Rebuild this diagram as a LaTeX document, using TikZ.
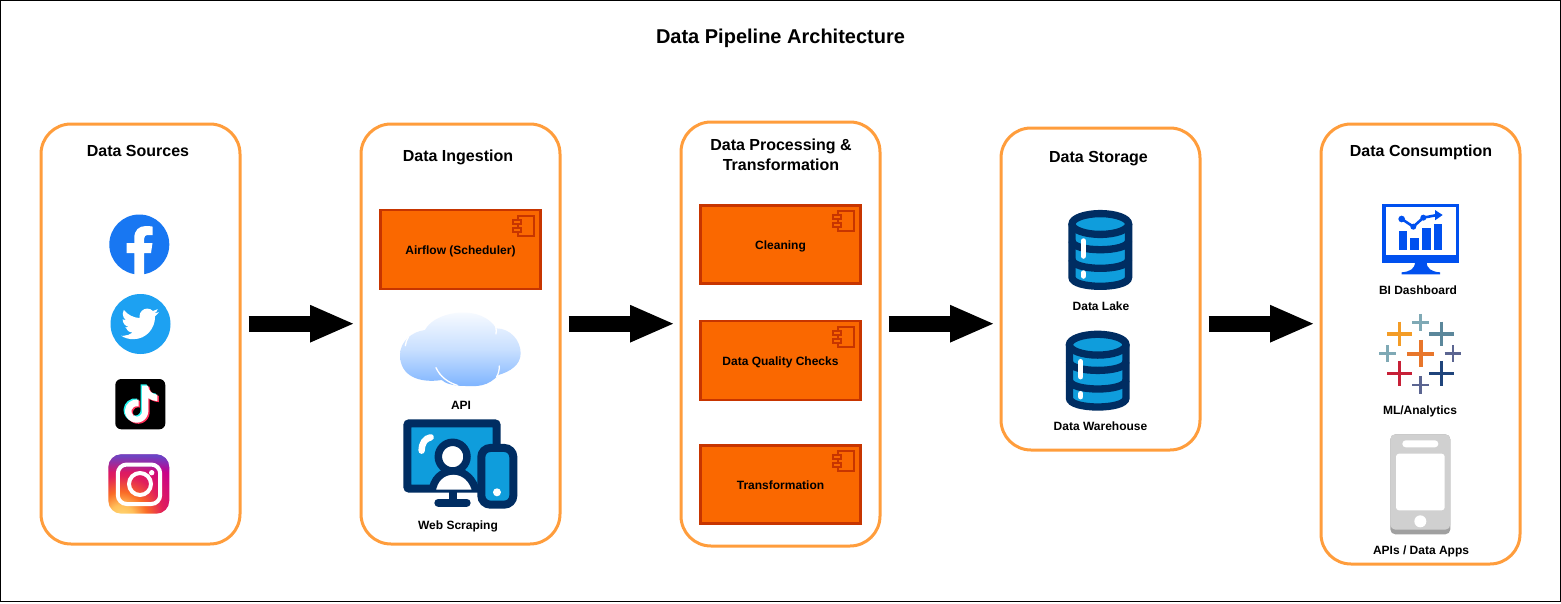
\documentclass[tikz,border=0pt]{standalone}
\usepackage{fontspec}
\setmainfont{Liberation Sans}
\usetikzlibrary{svg.path,arrows.meta,fadings,calc}
\definecolor{panelor}{HTML}{FF9D3C}
\definecolor{boxfill}{HTML}{FA6800}
\definecolor{boxline}{HTML}{C73500}
\definecolor{fbblue}{HTML}{1877F2}
\definecolor{twblue}{HTML}{1DA1F2}
\definecolor{navy}{HTML}{002D62}
\definecolor{skyb}{HTML}{0F9DDC}
\definecolor{biblue}{HTML}{0050EF}
\definecolor{phgray}{HTML}{D0D0D0}
\definecolor{phdark}{HTML}{A0A0A0}
\definecolor{tcyan}{HTML}{25F4EE}
\definecolor{tred}{HTML}{FE2C55}
\definecolor{tyel}{HTML}{F39C26}
\definecolor{tlteal}{HTML}{7FA9B5}
\definecolor{tteal}{HTML}{5B879B}
\definecolor{torange}{HTML}{E8762B}
\definecolor{tslate}{HTML}{5B6591}
\definecolor{tcrim}{HTML}{C72037}
\definecolor{tdblue}{HTML}{1F447B}
\definecolor{cloudb}{HTML}{7EB4FF}
\definecolor{igblue}{HTML}{4F5BD5}
\pgfdeclareradialshading{instag}{\pgfpoint{0bp}{0bp}}{%
  rgb(0bp)=(1,0.86,0.47);rgb(4bp)=(1,0.75,0.35);rgb(8bp)=(0.98,0.42,0.15);rgb(13bp)=(0.88,0.12,0.36);rgb(20bp)=(0.78,0.0,0.55);rgb(25bp)=(0.62,0.05,0.68);rgb(50bp)=(0.62,0.05,0.68)}
\tikzset{
  panel/.style={draw=panelor,line width=3pt,fill=white,rounded corners=30pt,minimum width=199pt},
  compbox/.style={draw=boxline,fill=boxfill,line width=2.5pt,minimum width=160pt,minimum height=79pt,font=\fontsize{12}{14}\bfseries,text=black,text height=9pt,text depth=0pt},
  heading/.style={font=\fontsize{16}{20}\bfseries,align=center,text=black,inner sep=0pt},
  caption/.style={font=\fontsize{12}{14}\bfseries,text=black,inner sep=0pt,text height=9pt,text depth=1.5pt},
  flowarrow/.style={line width=16pt,black,-{Triangle[length=45pt,width=34pt]},shorten <=7pt,shorten >=4.5pt},
  comp/.style={draw=boxline,line width=2pt,fill=none},
}
\newcommand{\compicon}[2]{%
 \begin{scope}[shift={(#1,#2)}]
  \draw[comp] (-17.5,-33.5) rectangle (-1.5,-13.5);
  \draw[comp,fill=boxfill] (-22.5,-30) rectangle (-14.5,-26);
  \draw[comp,fill=boxfill] (-22.5,-22) rectangle (-14.5,-18);
 \end{scope}}
\newcommand{\dbicon}[2]{%
 \begin{scope}[shift={(#1,#2)},line width=7.3pt,draw=navy]
  \path[fill=skyb] (-28.3,14) -- (-28.3,67.3) .. controls (-28.3,79.3) and (28.3,79.3) .. (28.3,67.3) -- (28.3,14) -- cycle;
  \draw[navy] (-28.3,30.7) .. controls (-28.3,42.7) and (28.3,42.7) .. (28.3,30.7);
  \draw[navy] (-28.3,49.3) .. controls (-28.3,61.3) and (28.3,61.3) .. (28.3,49.3);
  \draw[white,line width=5.5pt,line cap=round] (-17,31) -- (-17,46);
  \draw[white,line width=5.5pt,line cap=round] (-17,63) -- (-17,66);
  \draw[navy] (-28.3,14) -- (-28.3,67.3) .. controls (-28.3,79.3) and (28.3,79.3) .. (28.3,67.3) -- (28.3,14);
  \draw[navy,fill=skyb] (0,14) ellipse [x radius=28.3,y radius=10.4];
 \end{scope}}
\newcommand{\tplus}[5]{%
 \draw[#5,line width=#4pt] ({#1-#3},#2) -- ({#1+#3},#2) ({#1},{#2-#3}) -- ({#1},{#2+#3});}
\newcommand{\tiktokpath}[1]{\fill[#1] svg {M 12.525 0.02 c 1.31 -0.02 2.61 -0.01 3.91 -0.02 c 0.08 1.53 0.63 3.09 1.75 4.17 c 1.12 1.11 2.7 1.62 4.24 1.79 v 4.03 c -1.44 -0.05 -2.89 -0.35 -4.2 -0.97 c -0.57 -0.26 -1.1 -0.59 -1.62 -0.93 c -0.01 2.92 0.01 5.84 -0.02 8.75 c -0.08 1.4 -0.54 2.79 -1.35 3.94 c -1.31 1.92 -3.58 3.17 -5.91 3.21 c -1.43 0.08 -2.86 -0.31 -4.08 -1.03 c -2.02 -1.19 -3.44 -3.37 -3.65 -5.71 c -0.02 -0.5 -0.03 -1 -0.01 -1.49 c 0.18 -1.9 1.12 -3.72 2.58 -4.96 c 1.66 -1.44 3.98 -2.13 6.15 -1.72 c 0.02 1.48 -0.04 2.96 -0.04 4.44 c -0.99 -0.32 -2.15 -0.23 -3.02 0.37 c -0.63 0.41 -1.11 1.04 -1.36 1.75 c -0.21 0.51 -0.15 1.07 -0.14 1.61 c 0.24 1.64 1.82 3.02 3.5 2.87 c 1.12 -0.01 2.19 -0.66 2.77 -1.61 c 0.19 -0.33 0.4 -0.67 0.41 -1.06 c 0.1 -1.79 0.06 -3.57 0.07 -5.36 c 0.01 -4.03 -0.01 -8.05 0.02 -12.07 z};}
\begin{document}
\begin{tikzpicture}[x=1pt,y=-1pt]
\useasboundingbox (0,0) rectangle (1561,603);
\fill[white] (0,0) rectangle (1561,603);
\draw[black,line width=1pt] (0.5,0.5) rectangle (1560.5,601.5);
\node[font=\fontsize{20}{24}\bfseries,inner sep=0pt] (title) at (780.5,38.5) {Data Pipeline Architecture};

% panels
\node[panel,minimum height=420pt] (sources) at (140.5,334) {};
\node[panel,minimum height=420pt] (ingestion) at (460.5,334) {};
\node[panel,minimum height=424pt] (processing) at (780.5,334) {};
\node[panel,minimum height=322pt] (storage) at (1100.5,289) {};
\node[panel,minimum height=440pt] (consumption) at (1420.5,344) {};

\node[heading] (hsources) at (138,151) {Data Sources};
\node[heading] (hingest) at (458,157) {Data Ingestion};
\node[heading] (hproc) at (781,155) {Data Processing \&\\Transformation};
\node[heading] (hstore) at (1098.5,158.5) {Data Storage};
\node[heading] (hcons) at (1421,152) {Data Consumption};

% connectors
\coordinate (flow) at (0,323.7);
\draw[flowarrow] (sources.east |- flow) -- (ingestion.west |- flow);
\draw[flowarrow] (ingestion.east |- flow) -- (processing.west |- flow);
\draw[flowarrow] (processing.east |- flow) -- (storage.west |- flow);
\draw[flowarrow] (storage.east |- flow) -- (consumption.west |- flow);

% facebook
\fill[fbblue] (139.3,244.5) circle[radius=30];
\fill[white] (134.3,275) -- (134.3,253) -- (126.7,253) -- (126.7,243) -- (134.3,243) -- (134.3,238)
  .. controls (134.3,230) and (139,226) .. (146,226) .. controls (149,226) and (151,226.3) .. (152.7,226.6)
  -- (152.7,235) -- (148.5,235) .. controls (145.3,235) and (144,236.5) .. (144,239) -- (144,243)
  -- (152.5,243) -- (151,253) -- (144,253) -- (144,275) -- cycle;

% twitter
\fill[twblue] (140.5,324) circle[radius=30];
\begin{scope}[shift={(119.6,304)},scale=1.66,yscale=-1]
\fill[white] svg {M 23.643 4.937 c -0.835 0.37 -1.732 0.62 -2.675 0.733 c 0.962 -0.576 1.7 -1.49 2.048 -2.578 c -0.9 0.534 -1.897 0.922 -2.958 1.13 c -0.85 -0.904 -2.06 -1.47 -3.4 -1.47 c -2.572 0 -4.658 2.086 -4.658 4.66 c 0 0.364 0.042 0.718 0.12 1.06 c -3.873 -0.195 -7.304 -2.05 -9.602 -4.868 c -0.4 0.69 -0.63 1.49 -0.63 2.342 c 0 1.616 0.823 3.043 2.072 3.878 c -0.764 -0.025 -1.482 -0.234 -2.11 -0.583 v 0.06 c 0 2.257 1.605 4.14 3.737 4.568 c -0.392 0.106 -0.803 0.162 -1.227 0.162 c -0.3 0 -0.593 -0.028 -0.877 -0.082 c 0.593 1.85 2.313 3.198 4.352 3.234 c -1.595 1.25 -3.604 1.995 -5.786 1.995 c -0.376 0 -0.747 -0.022 -1.112 -0.065 c 2.062 1.323 4.51 2.093 7.14 2.093 c 8.57 0 13.255 -7.098 13.255 -13.254 c 0 -0.2 -0.005 -0.402 -0.014 -0.602 c 0.91 -0.658 1.7 -1.477 2.323 -2.41 z};
\end{scope}

% tiktok
\fill[black,rounded corners=6pt] (115.3,379) rectangle (165.3,429.3);
\begin{scope}[shift={(121.2,384.4)},scale=1.55,yscale=-1]\tiktokpath{tcyan}\end{scope}
\begin{scope}[shift={(124,386.6)},scale=1.55,yscale=-1]\tiktokpath{tred}\end{scope}
\begin{scope}[shift={(122.6,385.5)},scale=1.55,yscale=-1]\tiktokpath{white}\end{scope}

% instagram
\begin{scope}
 \clip[rounded corners=13pt] (108.3,454.3) rectangle (169.3,513.7);
 \shade[shading=instag] (121,518) circle[radius=82];
 \fill[igblue,path fading=south] (100,450) rectangle (170,472);
\end{scope}
\draw[white,line width=4pt,rounded corners=9pt] (117.8,464.5) rectangle (160.2,504);
\draw[white,line width=4pt] (140,484) circle[radius=11];
\fill[white] (151.7,472.7) circle[radius=2.7];

% boxes
\node[compbox] (airflow) at (460.5,249.5) {Airflow (Scheduler)};
\compicon{535.5}{249.5}
\node[compbox,minimum height=78pt] (cleaning) at (780.5,244.5) {Cleaning};
\node[compbox,minimum height=79pt] (quality) at (780.5,360.5) {Data Quality Checks};
\node[compbox,minimum height=78pt] (transform) at (780.5,484.5) {Transformation};

% cloud
\begin{scope}[shift={(370,200)},x=0.3333pt,y=-0.3333pt]
 \shade[top color=cloudb!6!white,bottom color=cloudb,middle color=cloudb!42!white]
   (215,540) .. controls (150,550) and (90,530) .. (90,465)
   .. controls (90,425) and (125,395) .. (165,390)
   .. controls (190,345) and (260,335) .. (290,338)
   .. controls (330,340) and (365,360) .. (378,385)
   .. controls (420,385) and (452,420) .. (452,460)
   .. controls (452,495) and (420,515) .. (385,525)
   .. controls (355,560) and (320,560) .. (285,558)
   .. controls (250,558) and (225,550) .. (215,540) -- cycle;
 \draw[white,line width=1.3pt,line cap=round] (198,503) .. controls (210,530) and (235,548) .. (262,556);
 \draw[white,line width=1.3pt,line cap=round] (388,498) .. controls (388,510) and (386,520) .. (380,530);
 \draw[white,line width=1.3pt,line cap=round] (372,365) .. controls (378,378) and (380,390) .. (378,402);
 \draw[white,line width=1.3pt,line cap=round] (115,412) .. controls (110,420) and (107,428) .. (106,437);
 % web scraping icon
 \draw[navy,line width=8pt,fill=skyb,rounded corners=2pt] (112,670) rectangle (380,866);
 \fill[navy] (237,870) rectangle (260,905);
 \draw[navy,line width=8pt,line cap=round] (205,908) -- (290,908);
 \draw[white,line width=6.5pt,line cap=round] (155,752) .. controls (155,730) and (165,715) .. (182,712);
 \begin{scope}
  \clip (100,658) rectangle (340,868);
  \draw[navy,line width=7.5pt,fill=white] (185,880) .. controls (190,835) and (215,815) .. (250,812) .. controls (285,815) and (310,835) .. (320,880) -- cycle;
 \end{scope}
 \draw[navy,line width=7.5pt,fill=white] (248,770) circle[radius=43];
 \draw[navy,line width=8pt,fill=skyb,rounded corners=9pt] (334,744) rectangle (430,914);
 \fill[white] (381,877) circle[radius=12];
\end{scope}

\node[caption] (api) at (461,405.5) {API};
\node[caption] (web) at (458,525.5) {Web Scraping};

\compicon{855.5}{244.5}
\compicon{855.5}{360.5}
\compicon{855.5}{484.5}

% databases
\dbicon{1100.3}{210}
\dbicon{1097.7}{330.7}
\node[caption] (lake) at (1101,306.5) {Data Lake};
\node[caption] (warehouse) at (1100.5,426.5) {Data Warehouse};

% BI dashboard
\begin{scope}[shift={(1360,195)},x=0.3333pt,y=-0.3333pt]
 \fill[biblue] (165,200) .. controls (165,222) and (150,230) .. (125,232) -- (125,238) -- (240,238) -- (240,232) .. controls (215,230) and (200,222) .. (200,200) -- cycle;
 \draw[biblue,line width=3.3pt] (72,31) rectangle (292,200);
 \fill[biblue] (67,180) rectangle (297,205);
 \fill[biblue] (116,107) rectangle (142,165);
 \fill[biblue] (150,128) rectangle (177,165);
 \fill[biblue] (186,99) rectangle (212,165);
 \fill[biblue] (221,86) rectangle (247,165);
 \draw[biblue,line width=2.6pt] (125,72) -- (160,95) -- (190,68) -- (232,60);
 \fill[biblue] (125,72) circle[radius=10];
 \fill[biblue] (160,95) circle[radius=9];
 \fill[biblue] (190,68) circle[radius=9];
 \fill[biblue] (248,60) -- (225,45) -- (225,76) -- cycle;
 % tableau
 \tplus{118}{417}{37}{3.3}{tyel}
 \tplus{182}{382}{25}{2.4}{tlteal}
 \tplus{245}{417}{37}{3.3}{tteal}
 \tplus{83}{476}{25}{2.4}{tlteal}
 \tplus{182}{476}{41}{4.3}{torange}
 \tplus{279}{476}{25}{2.6}{tslate}
 \tplus{118}{535}{37}{3.3}{tcrim}
 \tplus{245}{535}{37}{3.3}{tdblue}
 \tplus{182}{570}{26}{2.4}{tslate}
\end{scope}
\node[caption] (bi) at (1418,290.5) {BI Dashboard};
\node[caption] (ml) at (1420,410.5) {ML/Analytics};

% phone
\begin{scope}[shift={(1360,395)},x=0.3333pt,y=-0.3333pt]
 \fill[phdark,rounded corners=5pt] (91,118) rectangle (271,418);
 \fill[phgray,rounded corners=5pt] (91,118) rectangle (271,404);
 \fill[white,rounded corners=3pt] (108,176) rectangle (254,346);
 \fill[white,rounded corners=3.4pt] (127,136) rectangle (235,157);
 \fill[white] (181,379) circle[radius=18];
\end{scope}
\node[caption] (apps) at (1421,550.5) {APIs / Data Apps};
\end{tikzpicture}
\end{document}
